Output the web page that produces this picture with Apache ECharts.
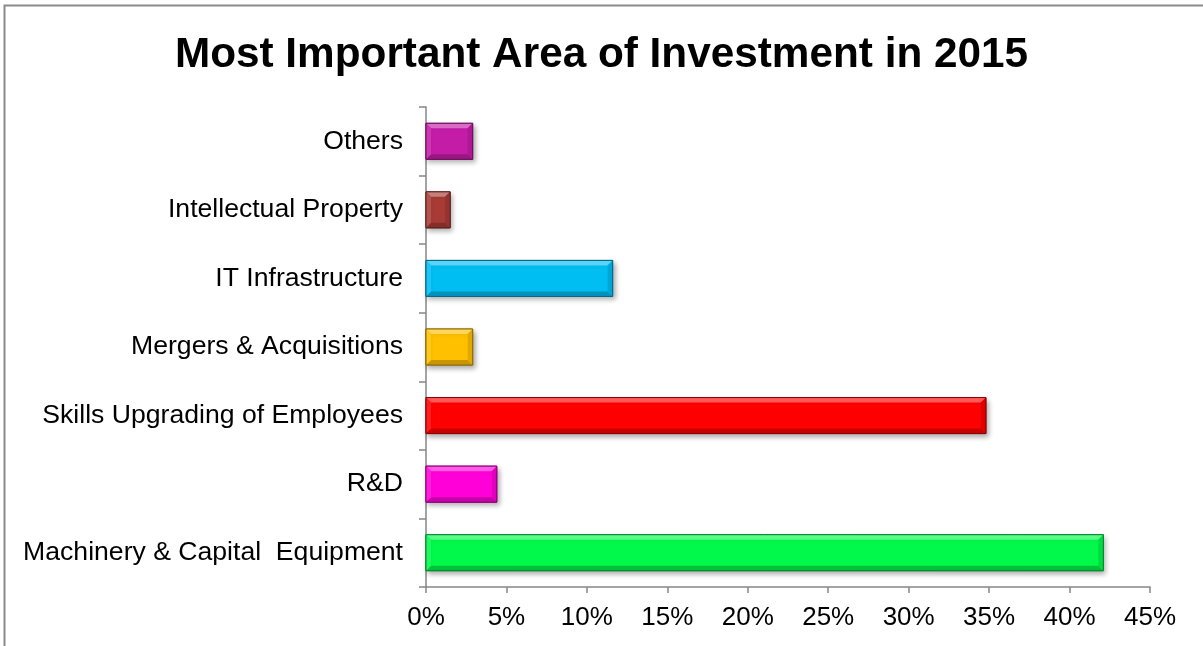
<!DOCTYPE html>
<html>
<head>
<meta charset="utf-8">
<style>
  html, body { margin: 0; padding: 0; background: #fff; }
  #chart { width: 1203px; height: 646px; }
</style>
<script src="https://cdn.jsdelivr.net/npm/echarts@6/dist/echarts.min.js"></script>
</head>
<body>
<div id="chart"></div>
<script>
// Survey results: share of respondents naming each area (percent)
const categories = [
  'Machinery & Capital  Equipment',
  'R&D',
  'Skills Upgrading of Employees',
  'Mergers & Acquisitions',
  'IT Infrastructure',
  'Intellectual Property',
  'Others'
];
const shares = [42.1, 4.4, 34.8, 2.9, 11.6, 1.5, 2.9];
const barColors = ['#00f94a', '#ff00d8', '#ff0000', '#ffc000', '#00bdf2', '#a83b36', '#c51ca8'];
const xTicks = { min: 0, max: 45, interval: 5 };

function mix(hex, target, t) {
  const n = parseInt(hex.slice(1), 16);
  const r = (n >> 16) & 255, g = (n >> 8) & 255, b = n & 255;
  const m = (c) => Math.round(c + (target - c) * t);
  return 'rgb(' + m(r) + ',' + m(g) + ',' + m(b) + ')';
}

const chart = echarts.init(document.getElementById('chart'), null, { renderer: 'canvas' });

// Bevelled bar: a base block plus four framing facets
function renderBevelBar(params, api) {
  const idx = api.value(1);
  const start = api.coord([0, idx]);
  const end = api.coord([api.value(0), idx]);
  const band = api.size([0, 1])[1];
  const h = band * 0.525;
  const x0 = start[0], x1 = end[0];
  const y0 = start[1] - h / 2, y1 = start[1] + h / 2;
  const bv = Math.min(5, (x1 - x0) / 3);
  const base = barColors[params.dataIndex];
  const light = mix(base, 255, 0.35);
  const dark = mix(base, 0, 0.22);
  const side = mix(base, 0, 0.12);
  const edge = mix(base, 0, 0.45);
  return {
    type: 'group',
    children: [
      {
        type: 'rect',
        shape: { x: x0, y: y0, width: x1 - x0, height: h },
        style: {
          fill: base, stroke: edge, lineWidth: 1,
          shadowBlur: 5, shadowOffsetX: 2, shadowOffsetY: 3, shadowColor: 'rgba(0,0,0,0.32)'
        }
      },
      {
        type: 'polygon',
        shape: { points: [[x0, y0], [x1, y0], [x1 - bv, y0 + bv], [x0 + bv, y0 + bv]] },
        style: { fill: light }
      },
      {
        type: 'polygon',
        shape: { points: [[x0, y1], [x1, y1], [x1 - bv, y1 - bv], [x0 + bv, y1 - bv]] },
        style: { fill: dark }
      },
      {
        type: 'polygon',
        shape: { points: [[x1, y0], [x1, y1], [x1 - bv, y1 - bv], [x1 - bv, y0 + bv]] },
        style: { fill: side }
      },
      {
        type: 'polygon',
        shape: { points: [[x0, y0], [x0, y1], [x0 + bv, y1 - bv], [x0 + bv, y0 + bv]] },
        style: { fill: mix(base, 255, 0.12) }
      },
      {
        type: 'rect',
        shape: { x: x0, y: y0, width: x1 - x0, height: h },
        style: { fill: 'none', stroke: edge, lineWidth: 1 }
      }
    ]
  };
}

const option = {
  backgroundColor: '#ffffff',
  animation: false,
  title: {
    text: 'Most Important Area of Investment in 2015',
    left: 'center',
    top: 29,
    textStyle: {
      fontFamily: 'Liberation Sans, Arial, sans-serif',
      fontSize: 42.3,
      fontWeight: 'bold',
      color: '#000'
    }
  },
  graphic: [{
    type: 'rect',
    shape: { x: 4.5, y: 5.5, width: 1240, height: 700 },
    style: { fill: 'none', stroke: '#8a8a8a', lineWidth: 2 },
    silent: true
  }],
  grid: { left: 426, right: 53, top: 107, bottom: 59 },
  xAxis: {
    type: 'value',
    min: xTicks.min,
    max: xTicks.max,
    interval: xTicks.interval,
    axisLine: { show: true, lineStyle: { color: '#868686', width: 1.5 } },
    axisTick: { show: true, length: 6, lineStyle: { color: '#868686', width: 1.5 } },
    splitLine: { show: false },
    axisLabel: {
      formatter: '{value}%',
      margin: 18,
      fontFamily: 'Liberation Sans, Arial, sans-serif',
      fontSize: 26,
      color: '#000'
    }
  },
  yAxis: {
    type: 'category',
    data: categories,
    axisLine: { show: true, lineStyle: { color: '#868686', width: 1.5 } },
    axisTick: { show: true, length: 7, lineStyle: { color: '#868686', width: 1.5 } },
    splitLine: { show: false },
    axisLabel: {
      margin: 23,
      fontFamily: 'Liberation Sans, Arial, sans-serif',
      fontSize: 26.6,
      color: '#000'
    }
  },
  series: [{
    type: 'custom',
    renderItem: renderBevelBar,
    encode: { x: 0, y: 1 },
    data: shares.map((v, i) => [v, i])
  }]
};

chart.setOption(option);
</script>
</body>
</html>
